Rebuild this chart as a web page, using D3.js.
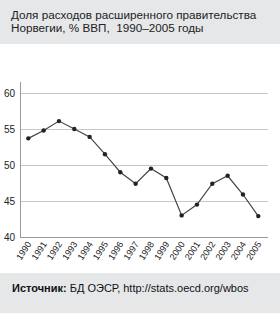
<!DOCTYPE html>
<html><head><meta charset="utf-8">
<script src="https://cdn.jsdelivr.net/npm/d3@7"></script>
<style>body{margin:0;background:#fff}svg{display:block}</style>
</head><body>
<script>
const titleLines = ["Доля расходов расширенного правительства", "Норвегии, % ВВП,  1990–2005 годы"];
const years = ["1990","1991","1992","1993","1994","1995","1996","1997","1998","1999","2000","2001","2002","2003","2004","2005"];
const values = [53.7,54.8,56.1,55.0,53.9,51.5,49.0,47.4,49.5,48.2,43.0,44.5,47.4,48.5,45.9,42.9];
const yTicks = [40,45,50,55,60];

const W = 280, H = 313;
const svg = d3.select("body").append("svg").attr("width", W).attr("height", H);
svg.append("rect").attr("width", W).attr("height", 44).attr("fill", "#e6e7e9");
svg.append("rect").attr("y", 273).attr("width", W).attr("height", 40).attr("fill", "#e6e7e9");

const t = svg.append("text").attr("x", 11).attr("y", 19).attr("fill", "#222")
  .style("white-space", "pre")
  .style("font-family", "Liberation Sans, Arial, sans-serif").style("font-size", "11.7px");
titleLines.forEach((l, i) => t.append("tspan").attr("x", 11).attr("y", 19 + i * 13).text(l));

const x = d3.scalePoint().domain(years).range([28.3, 258.3]);
const y = d3.scaleLinear().domain([40, 60]).range([237, 93]);

const g = svg.append("g");
g.selectAll(".grid").data(yTicks.filter(d => d > 40)).join("line")
  .attr("x1", 20).attr("x2", 268).attr("y1", d => y(d)).attr("y2", d => y(d))
  .attr("stroke", "#c8c8c8").attr("stroke-width", 1).attr("shape-rendering", "crispEdges");

const yAxis = svg.append("g").attr("transform", "translate(20,0)")
  .call(d3.axisLeft(y).tickValues(yTicks).tickSize(0).tickPadding(5));
yAxis.select(".domain").remove();
yAxis.selectAll("text").style("font-family", "Liberation Sans, Arial, sans-serif").style("font-size", "10px").attr("fill", "#222");
svg.append("line").attr("x1", 20).attr("x2", 20).attr("y1", 82).attr("y2", 237).attr("stroke", "#999").attr("shape-rendering", "crispEdges");

const xAxis = svg.append("g").attr("transform", "translate(0,237)")
  .call(d3.axisBottom(x).tickSize(0).tickPadding(0));
xAxis.select(".domain").remove();
svg.append("line").attr("x1", 20).attr("x2", 268).attr("y1", 237).attr("y2", 237).attr("stroke", "#999").attr("shape-rendering", "crispEdges");
xAxis.selectAll("text")
  .style("font-family", "Liberation Sans, Arial, sans-serif").style("font-size", "9px").attr("fill", "#222")
  .attr("text-anchor", "end").attr("dy", null).attr("y", 0)
  .attr("transform", "translate(3,7) rotate(-57)");

const line = d3.line().x((d, i) => x(years[i])).y(d => y(d));
svg.append("path").datum(values).attr("d", line).attr("fill", "none").attr("stroke", "#444").attr("stroke-width", 1.2);
svg.selectAll(".pt").data(values).join("circle")
  .attr("cx", (d, i) => x(years[i])).attr("cy", d => y(d)).attr("r", 2.2).attr("fill", "#222");

const f = svg.append("text").attr("x", 12).attr("y", 292).attr("fill", "#111")
  .style("white-space", "pre")
  .style("font-family", "Liberation Sans, Arial, sans-serif").style("font-size", "11px");
f.append("tspan").attr("font-weight", "bold").text("Источник:");
f.append("tspan").text(" БД ОЭСР, http://stats.oecd.org/wbos");
</script>
</body></html>
